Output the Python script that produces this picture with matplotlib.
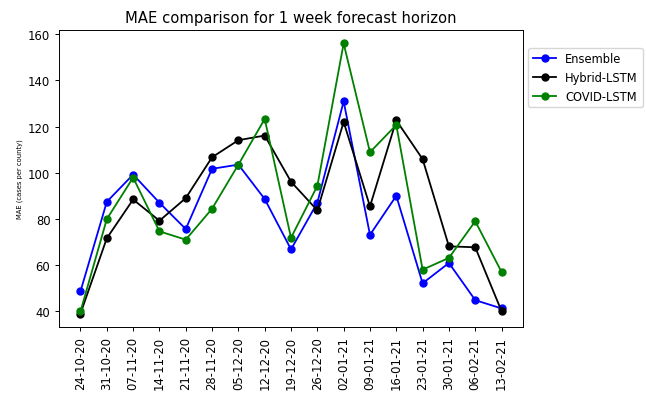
import matplotlib
matplotlib.use("Agg")
import matplotlib.pyplot as plt

# week-ending dates on the x axis
dates = ["24-10-20", "31-10-20", "07-11-20", "14-11-20", "21-11-20", "28-11-20",
         "05-12-20", "12-12-20", "19-12-20", "26-12-20", "02-01-21", "09-01-21",
         "16-01-21", "23-01-21", "30-01-21", "06-02-21", "13-02-21"]

ensemble = [48.6, 87.4, 99.2, 87.0, 75.6, 101.7, 103.5, 88.6, 66.8, 87.0,
            130.9, 73.1, 90.0, 52.1, 60.9, 44.8, 41.2]
hybrid_lstm = [39.0, 71.6, 88.4, 79.2, 89.0, 106.7, 114.1, 116.1, 96.1, 83.7,
               122.0, 85.4, 122.7, 105.9, 68.1, 67.7, 40.0]
covid_lstm = [39.9, 79.9, 97.9, 74.6, 71.0, 84.4, 103.5, 123.3, 71.8, 94.3,
              156.0, 108.9, 120.7, 58.0, 63.1, 79.0, 57.0]

fig, ax = plt.subplots(figsize=(6.46, 4.02), dpi=100)
fig.subplots_adjust(left=0.092, right=0.809, top=0.923, bottom=0.184)

for vals, color, label in [(ensemble, "blue", "Ensemble"),
                           (hybrid_lstm, "black", "Hybrid-LSTM"),
                           (covid_lstm, "green", "COVID-LSTM")]:
    ax.plot(dates, vals, color=color, marker="o", ms=5, lw=1.3, label=label)

ax.set_title("MAE comparison for 1 week forecast horizon", fontsize=10.6)
ax.set_ylabel("MAE (cases per county)", fontsize=4.9)
ax.tick_params(axis="both", labelsize=8.4, length=3, width=0.7)
ax.tick_params(axis="x", labelrotation=90)
for sp in ax.spines.values():
    sp.set_linewidth(0.7)
ax.legend(loc="upper left", bbox_to_anchor=(1.0, 0.96), fontsize=8.3)

fig.savefig("out.png", dpi=100)
plt.close(fig)
